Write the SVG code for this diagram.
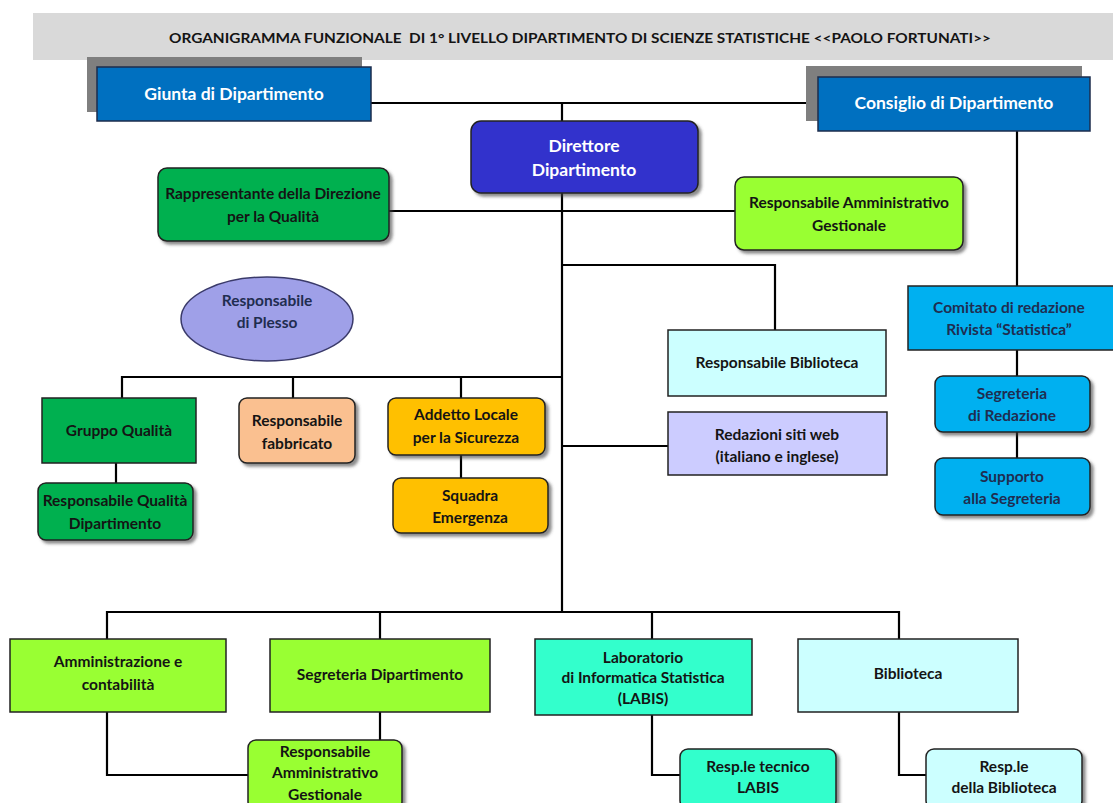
<svg xmlns="http://www.w3.org/2000/svg" width="1113" height="803" viewBox="0 0 1113 803">
<defs>
<filter id="sh" x="-10%" y="-10%" width="130%" height="140%">
<feDropShadow dx="3" dy="3" stdDeviation="1.5" flood-color="#404040" flood-opacity="0.6"/>
</filter>
</defs>
<style>
text{font-family:Lato,"Liberation Sans",sans-serif;font-weight:bold;font-size:15.5px;text-anchor:middle;fill:#141414}
.w{fill:#ffffff;font-size:17.5px}
.nv{fill:#1f2d50}
.bx{stroke:#222222;stroke-width:1.5}
.blue{fill:#0070c0;stroke:#1c2c4c;stroke-width:1.5}
.gsh{fill:#7f7f7f}
.dir{fill:#3333cc}
.g{fill:#00b050}
.lg{fill:#99ff33}
.pe{fill:#fac090}
.or{fill:#ffc000}
.cy{fill:#ccffff}
.lv{fill:#ccccff}
.sb{fill:#00b0f0}
.aq{fill:#33ffcc}
.el{fill:#9fa0e8;stroke:#3a3a6a;stroke-width:1.5}
.c{fill:none;stroke:#000000;stroke-width:2.2}
</style>
<rect x="33" y="13" width="1080" height="47" fill="#d9d9d9"/>
<text x="580" y="43" style="font-size:14px;white-space:pre" textLength="822" lengthAdjust="spacingAndGlyphs">ORGANIGRAMMA FUNZIONALE  DI 1° LIVELLO DIPARTIMENTO DI SCIENZE STATISTICHE &lt;&lt;PAOLO FORTUNATI&gt;&gt;</text>
<g id="connectors">
<path class="c" d="M371 103H818M562 103V121"/>
<path class="c" d="M562 193V612"/>
<path class="c" d="M389 211H735"/>
<path class="c" d="M562 265H775V330"/>
<path class="c" d="M1017 131V286M1017 350V376M1017 432V458"/>
<path class="c" d="M122 398V377H562M293 377V398M461 377V398"/>
<path class="c" d="M116 463V483M461 455V478"/>
<path class="c" d="M562 446H668"/>
<path class="c" d="M107 639V612H899V639M380 612V639M652 612V639"/>
<path class="c" d="M107 712V775H248M380 712V740M652 715V775H680M899 712V775H926"/>
</g>
<g id="giunta">
<rect class="gsh" x="87" y="57" width="275" height="55"/>
<rect class="blue" x="97" y="67" width="274" height="54"/>
<text class="w" x="234" y="100">Giunta di Dipartimento</text>
</g>
<g id="consiglio">
<rect class="gsh" x="806" y="66" width="276" height="55"/>
<rect class="blue" x="818" y="77" width="272" height="54"/>
<text class="w" x="954" y="109">Consiglio di Dipartimento</text>
</g>
<g id="direttore">
<rect class="dir bx" x="471" y="121" width="227" height="72" rx="10" filter="url(#sh)"/>
<text class="w" x="584" y="152">Direttore</text>
<text class="w" x="584" y="176">Dipartimento</text>
</g>
<g id="rappresentante">
<rect class="g bx" x="158" y="168" width="231" height="73" rx="9" filter="url(#sh)"/>
<text x="273" y="199">Rappresentante della Direzione</text>
<text x="273" y="222">per la Qualità</text>
</g>
<g id="rag-top">
<rect class="lg bx" x="735" y="177" width="228" height="73" rx="9" filter="url(#sh)"/>
<text x="849" y="208">Responsabile Amministrativo</text>
<text x="849" y="231">Gestionale</text>
</g>
<g id="plesso">
<ellipse class="el" cx="267" cy="319" rx="86" ry="42"/>
<text class="nv" x="267" y="306">Responsabile</text>
<text class="nv" x="267" y="328">di Plesso</text>
</g>
<g id="resp-biblioteca">
<rect class="cy bx" x="668" y="330" width="218" height="66"/>
<text x="777" y="368">Responsabile Biblioteca</text>
</g>
<g id="comitato">
<rect class="sb bx" x="908" y="286" width="210" height="64"/>
<text class="nv" x="1009" y="313">Comitato di redazione</text>
<text class="nv" x="1009" y="335">Rivista “Statistica”</text>
</g>
<g id="segreteria-redazione">
<rect class="sb bx" x="935" y="376" width="155" height="56" rx="8" filter="url(#sh)"/>
<text class="nv" x="1012" y="399">Segreteria</text>
<text class="nv" x="1012" y="421">di Redazione</text>
</g>
<g id="supporto">
<rect class="sb bx" x="935" y="458" width="155" height="57" rx="8" filter="url(#sh)"/>
<text class="nv" x="1012" y="482">Supporto</text>
<text class="nv" x="1012" y="504">alla Segreteria</text>
</g>
<g id="gruppo-qualita">
<rect class="g bx" x="42" y="398" width="154" height="65"/>
<text x="119" y="436">Gruppo Qualità</text>
</g>
<g id="resp-qualita">
<rect class="g bx" x="38" y="483" width="155" height="57" rx="8" filter="url(#sh)"/>
<text x="115" y="506">Responsabile Qualità</text>
<text x="115" y="529">Dipartimento</text>
</g>
<g id="fabbricato">
<rect class="pe bx" x="239" y="398" width="116" height="65" rx="8" filter="url(#sh)"/>
<text x="297" y="426">Responsabile</text>
<text x="297" y="449">fabbricato</text>
</g>
<g id="addetto">
<rect class="or bx" x="388" y="398" width="157" height="57" rx="8" filter="url(#sh)"/>
<text x="466" y="420">Addetto Locale</text>
<text x="466" y="443">per la Sicurezza</text>
</g>
<g id="squadra">
<rect class="or bx" x="393" y="478" width="155" height="55" rx="8" filter="url(#sh)"/>
<text x="470" y="501">Squadra</text>
<text x="470" y="523">Emergenza</text>
</g>
<g id="redazioni">
<rect class="lv bx" x="668" y="412" width="219" height="63"/>
<text x="777" y="440">Redazioni siti web</text>
<text x="777" y="462">(italiano e inglese)</text>
</g>
<g id="amministrazione">
<rect class="lg bx" x="10" y="639" width="216" height="73"/>
<text x="118" y="667">Amministrazione e</text>
<text x="118" y="690">contabilità</text>
</g>
<g id="segreteria-dip">
<rect class="lg bx" x="270" y="639" width="220" height="73"/>
<text x="380" y="680">Segreteria Dipartimento</text>
</g>
<g id="labis">
<rect class="aq bx" x="535" y="639" width="217" height="76"/>
<text x="643" y="663">Laboratorio</text>
<text x="643" y="683">di Informatica Statistica</text>
<text x="643" y="704">(LABIS)</text>
</g>
<g id="biblioteca">
<rect class="cy bx" x="798" y="639" width="220" height="73"/>
<text x="908" y="679">Biblioteca</text>
</g>
<g id="rag-bottom">
<rect class="lg bx" x="248" y="740" width="154" height="70" rx="8" filter="url(#sh)"/>
<text x="325" y="757">Responsabile</text>
<text x="325" y="778">Amministrativo</text>
<text x="325" y="800">Gestionale</text>
</g>
<g id="resp-labis">
<rect class="aq bx" x="680" y="749" width="156" height="60" rx="8" filter="url(#sh)"/>
<text x="758" y="772">Resp.le tecnico</text>
<text x="758" y="793">LABIS</text>
</g>
<g id="resp-biblioteca-2">
<rect class="cy bx" x="926" y="749" width="156" height="60" rx="8" filter="url(#sh)"/>
<text x="1004" y="772">Resp.le</text>
<text x="1004" y="793">della Biblioteca</text>
</g>
</svg>
